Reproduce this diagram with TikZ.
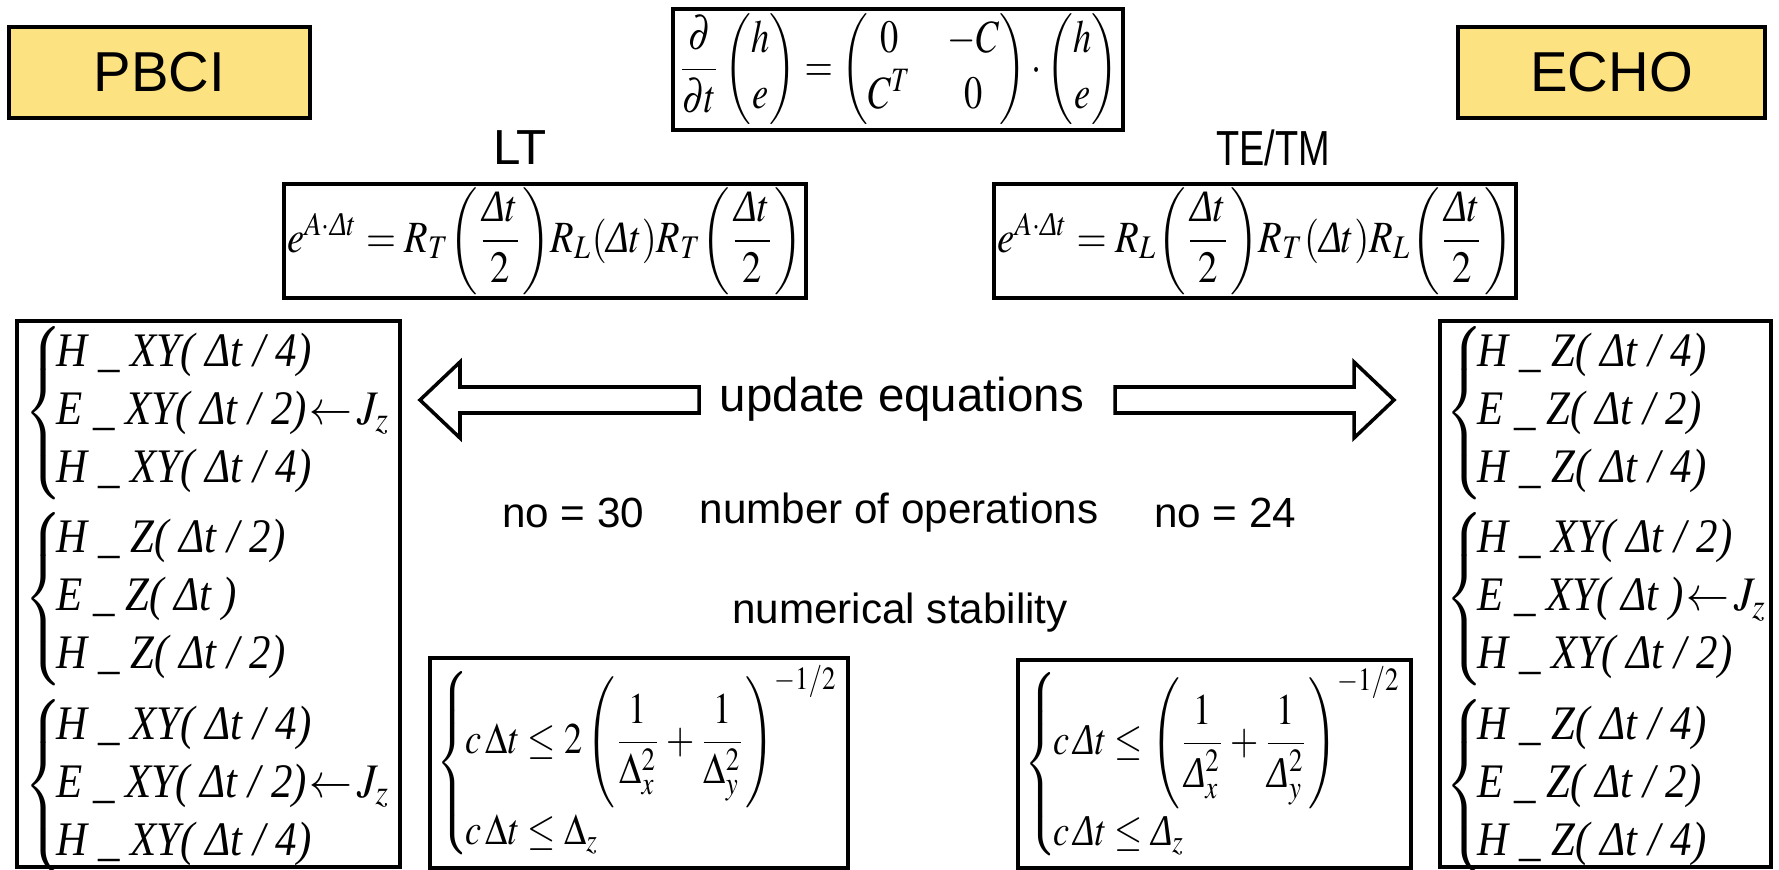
\documentclass[tikz,border=0pt]{standalone}
\usepackage{amsmath}
\usepackage{mathptmx}
\usepackage[no-math]{fontspec}
\setmainfont{Liberation Sans}
\newfontfamily\tms{Liberation Serif}
\usepackage{graphicx}
\usetikzlibrary{positioning}
\definecolor{titleyellow}{RGB}{252,226,128}

\newcommand\iD{\text{\tms\itshape Δ}}
\newcommand\op[1]{{\tms\itshape #1}}
\newcommand\opgroup[3]{\scalebox{0.89}[1]{$\left\{\kern-2pt\begin{tabular}{@{}l@{}}#1\\#2\\#3\end{tabular}\right.$}}
\newcommand\Jz{$\kern1pt\leftarrow\!J_z$}

\tikzset{
  titlebox/.style={draw, line width=1pt, fill=titleyellow, minimum height=0.91cm, font=\fontsize{16}{19}\selectfont},
  eqbox/.style={draw, line width=1.2pt, inner sep=0pt},
  stepbox/.style={draw, line width=1.2pt, minimum height=5.46cm},
  steps/.style={anchor=north west, inner sep=0pt, align=left, font=\fontsize{13.7}{16.5}\selectfont},
  caption/.style={font=\fontsize{14}{17}\selectfont},
  note/.style={font=\fontsize{12}{14}\selectfont},
  blockarrow/.style={draw, line width=1pt}
}

\begin{document}
\begin{tikzpicture}[x=0.01cm, y=-0.01cm]
   \useasboundingbox (0,0) rectangle (1779,870);

   % method names
   \node[titlebox, minimum width=3.01cm] (pbci) at (159.5,72.5) {PBCI};
   \node[titlebox, minimum width=3.07cm] (echo) at (1611.5,72.5) {ECHO};

   % Maxwell system
   \node[eqbox, minimum width=4.50cm, minimum height=1.21cm] (maxwell) at (898,69.5)
     {\resizebox*{4.40cm}{1.11cm}{$\dfrac{\partial}{\partial t}\begin{pmatrix}h\\ e\end{pmatrix}=\begin{pmatrix}0 & -C\\ C^{T} & 0\end{pmatrix}\cdot\begin{pmatrix}h\\ e\end{pmatrix}$}};

   % splittings
   \node[caption] (lt) at (520,148) {LT};
   \node[caption] (tetm) at (1273,148) {\scalebox{0.77}[1]{TE/TM}};
   \node[eqbox, minimum width=5.22cm, minimum height=1.14cm] (splitlt) at (545,241)
     {\resizebox*{5.15cm}{1.07cm}{$e^{A\cdot\iD t}=R_T{\left(\dfrac{\iD t}{2}\right)}R_L{\left(\iD t\right)}R_T{\left(\dfrac{\iD t}{2}\right)}$}};
   \node[eqbox, minimum width=5.22cm, minimum height=1.14cm] (splittetm) at (1255,241)
     {\resizebox*{5.15cm}{1.07cm}{$e^{A\cdot\iD t}=R_L{\left(\dfrac{\iD t}{2}\right)}R_T{\left(\iD t\right)}R_L{\left(\dfrac{\iD t}{2}\right)}$}};

   % update steps
   \node[stepbox, minimum width=3.83cm] (stepslt) at (208.5,594) {};
   \node[steps] (stepsltlist) at (24,325) {%
     \opgroup{\op{H \_ XY( Δt / 4)}}{\op{E \_ XY( Δt / 2)}\Jz}{\op{H \_ XY( Δt / 4)}}\\[0.09cm]
     \opgroup{\op{H \_ Z( Δt / 2)}}{\op{E \_ Z( Δt )}}{\op{H \_ Z( Δt / 2)}}\\[0.09cm]
     \opgroup{\op{H \_ XY( Δt / 4)}}{\op{E \_ XY( Δt / 2)}\Jz}{\op{H \_ XY( Δt / 4)}}};
   \node[stepbox, minimum width=3.31cm] (stepstetm) at (1605.5,594) {};
   \node[steps] (stepstetmlist) at (1445,325) {%
     \opgroup{\op{H \_ Z( Δt / 4)}}{\op{E \_ Z( Δt / 2)}}{\op{H \_ Z( Δt / 4)}}\\[0.09cm]
     \opgroup{\op{H \_ XY( Δt / 2)}}{\op{E \_ XY( Δt )}\Jz}{\op{H \_ XY( Δt / 2)}}\\[0.09cm]
     \opgroup{\op{H \_ Z( Δt / 4)}}{\op{E \_ Z( Δt / 2)}}{\op{H \_ Z( Δt / 4)}}};

   \node[font=\fontsize{13.5}{16}\selectfont] (update) at (902,399) {update equations};
   \draw[blockarrow] (699,387) -- (460,387) -- (460,362) -- (420,400) -- (460,438) -- (460,413) -- (699,413) -- cycle;
   \draw[blockarrow] (1115,387) -- (1354,387) -- (1354,362) -- (1394,400) -- (1354,438) -- (1354,413) -- (1115,413) -- cycle;

   \node[note] (nolt) at (573,513) {no = 30};
   \node[note] (ops) at (899,513) {number of operations};
   \node[note] (notetm) at (1225,513) {no = 24};

   % stability limits
   \node[note] (stab) at (900,613) {numerical stability};
   \node[eqbox, minimum width=4.18cm, minimum height=2.10cm] (cfllt) at (639,763)
     {\resizebox*{4.05cm}{1.95cm}{$\left\{\kern-0.8pt\begin{array}{@{}l@{}}c\,\Delta t\le 2\left(\dfrac{1}{\Delta_x^2}+\dfrac{1}{\Delta_y^2}\right)^{-1/2}\\[4pt] c\,\Delta t\le\Delta_z\end{array}\right.$}};
   \node[eqbox, minimum width=3.93cm, minimum height=2.08cm] (cfltetm) at (1214.5,764)
     {\resizebox*{3.80cm}{1.95cm}{$\left\{\kern-0.8pt\begin{array}{@{}l@{}}c\,\iD t\le\left(\dfrac{1}{\iD_x^2}+\dfrac{1}{\iD_y^2}\right)^{-1/2}\\[4pt] c\,\iD t\le\iD_z\end{array}\right.$}};
\end{tikzpicture}
\end{document}
